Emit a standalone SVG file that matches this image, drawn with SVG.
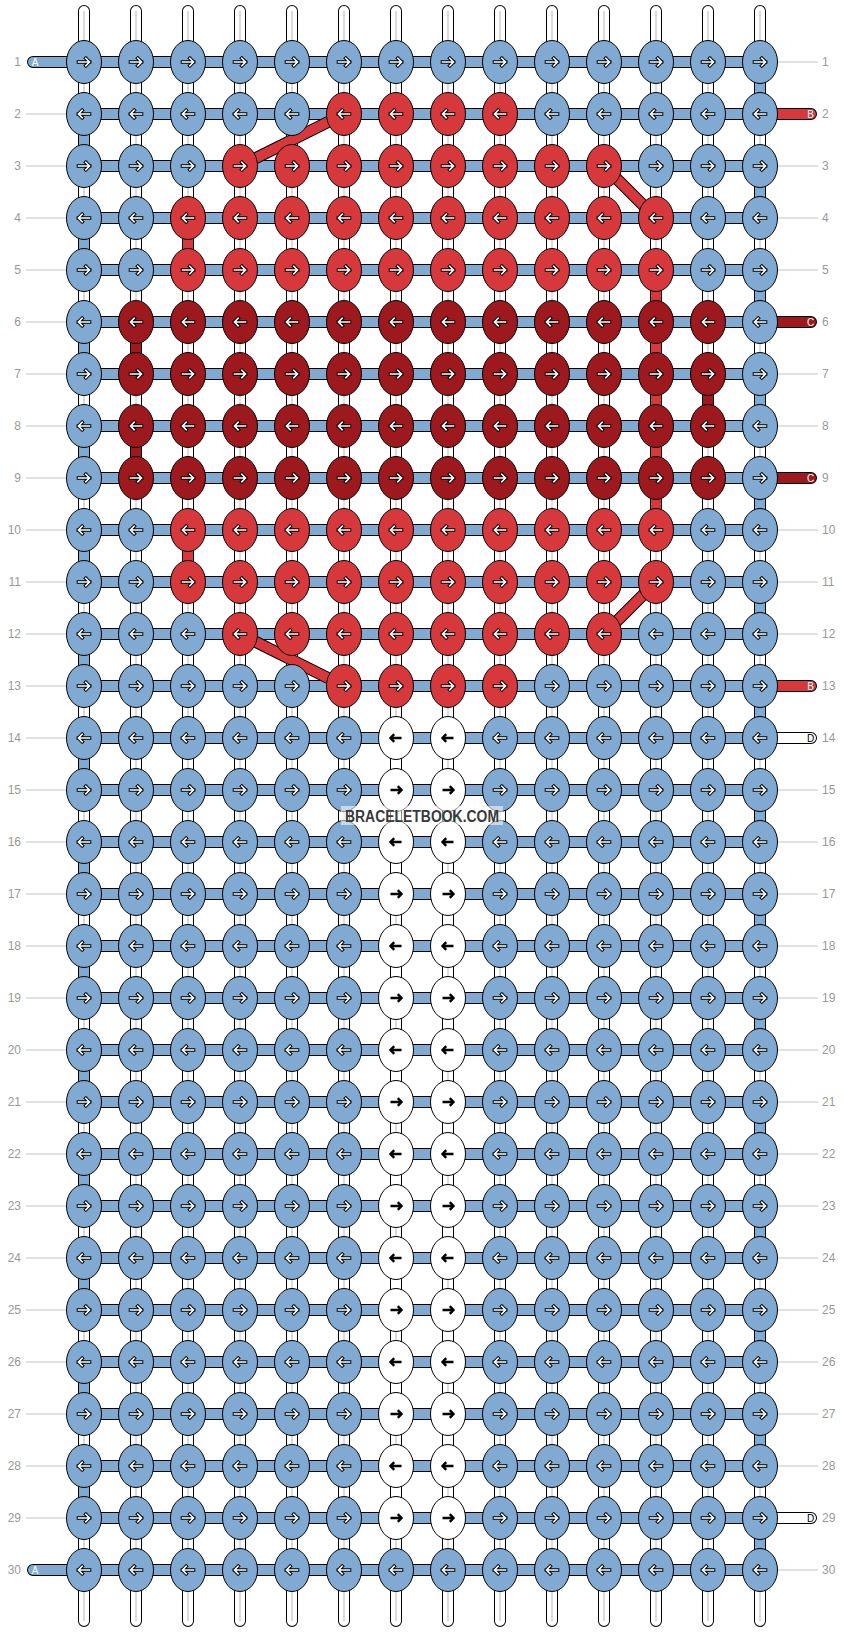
<svg xmlns="http://www.w3.org/2000/svg" xmlns:xlink="http://www.w3.org/1999/xlink" width="844" height="1632" viewBox="0 0 844 1632">
<style>
.kb{fill:#80aad2;stroke:#000;stroke-width:1}
.kr{fill:#d6383c;stroke:#000;stroke-width:1}
.kd{fill:#9e191d;stroke:#000;stroke-width:1}
.kw{fill:#fff;stroke:#000;stroke-width:1}
.ao{fill:none;stroke:#000;stroke-width:3.6;stroke-linecap:square}
.ai{fill:none;stroke:#fff;stroke-width:1.6;stroke-linecap:square}
.ak{fill:none;stroke:#000;stroke-width:2.4}
.ob{fill:none;stroke:#000;stroke-width:12;stroke-linecap:round}
.obb{fill:none;stroke:#000;stroke-width:12}
.cw{fill:none;stroke:#fff;stroke-width:10;stroke-linecap:round}
.cwb{fill:none;stroke:#fff;stroke-width:10}
.cg{fill:none;stroke:#c4c4c4;stroke-width:1.2}
.cb{fill:none;stroke:#80aad2;stroke-width:10;stroke-linecap:round}
.cbb{fill:none;stroke:#80aad2;stroke-width:10}
.cr{fill:none;stroke:#d6383c;stroke-width:10;stroke-linecap:round}
.crb{fill:none;stroke:#d6383c;stroke-width:10}
.cd{fill:none;stroke:#9e191d;stroke-width:10;stroke-linecap:round}
.cdb{fill:none;stroke:#9e191d;stroke-width:10}
.ll{fill:none;stroke:#c4c4c4;stroke-width:1}
.rn{font-family:"Liberation Sans",Arial,sans-serif;font-size:12px;fill:#999}
.tl{font-family:"Liberation Sans",Arial,sans-serif;font-size:10px;text-anchor:middle}
</style>
<defs>
<path id="ar" d="M-5.5,0H5.5M1.8,-3.8L5.5,0L1.8,3.8"/>
<path id="al" d="M5.5,0H-5.5M-1.8,-3.8L-5.5,0L-1.8,3.8"/>
<g id="bR"><ellipse class="kb" rx="17.5" ry="21.5"/><use href="#ar" class="ao"/><use href="#ar" class="ai"/></g>
<g id="bL"><ellipse class="kb" rx="17.5" ry="21.5"/><use href="#al" class="ao"/><use href="#al" class="ai"/></g>
<g id="rR"><ellipse class="kr" rx="17.5" ry="21.5"/><use href="#ar" class="ao"/><use href="#ar" class="ai"/></g>
<g id="rL"><ellipse class="kr" rx="17.5" ry="21.5"/><use href="#al" class="ao"/><use href="#al" class="ai"/></g>
<g id="dR"><ellipse class="kd" rx="17.5" ry="21.5"/><use href="#ar" class="ao"/><use href="#ar" class="ai"/></g>
<g id="dL"><ellipse class="kd" rx="17.5" ry="21.5"/><use href="#al" class="ao"/><use href="#al" class="ai"/></g>
<g id="wR"><ellipse class="kw" rx="17.5" ry="21.5"/><use href="#ar" class="ak"/></g>
<g id="wL"><ellipse class="kw" rx="17.5" ry="21.5"/><use href="#al" class="ak"/></g>
<path id="vs" d="M84 11V1621M136 11V1621M188 11V1621M240 11V1621M292 11V1621M344 11V1621M396 11V1621M448 11V1621M500 11V1621M552 11V1621M604 11V1621M656 11V1621M708 11V1621M760 11V1621"/>
<path id="hs" d="M33 62H760M84 114H760M84 166H760M84 218H760M84 270H760M84 322H760M84 374H760M84 426H760M84 478H760M84 530H760M84 582H760M84 634H760M84 686H760M84 738H760M84 790H760M84 842H760M84 894H760M84 946H760M84 998H760M84 1050H760M84 1102H760M84 1154H760M84 1206H760M84 1258H760M84 1310H760M84 1362H760M84 1414H760M84 1466H760M84 1518H760M33 1570H760"/>
<path id="dg" d="M344 114L240 166M604 166L656 218M656 582L604 634M240 634L344 686"/>
</defs>
<rect width="844" height="1632" fill="#fff"/>
<g id="connectors">
<use href="#vs" class="ob"/><use href="#vs" class="cw"/><use href="#vs" class="cg"/>
<path class="cbb" d="M760 62V114M760 166V218M760 270V322M760 374V426M760 478V530M760 582V634M760 686V738M760 790V842M760 894V946M760 998V1050M760 1102V1154M760 1206V1258M760 1310V1362M760 1414V1466M760 1518V1570M84 114V166M84 218V270M84 322V374M84 426V478M84 530V582M84 634V686M84 738V790M84 842V894M84 946V998M84 1050V1102M84 1154V1206M84 1258V1310M84 1362V1414M84 1466V1518"/>
<path class="crb" d="M188 218V270M188 530V582M656 270V530"/>
<path class="cdb" d="M136 322V374M136 426V478M708 374V426"/>
<path class="cwb" d="M396 738V790M396 842V894M396 946V998M396 1050V1102M396 1154V1206M396 1258V1310M396 1362V1414M396 1466V1518M448 790V842M448 894V946M448 998V1050M448 1102V1154M448 1206V1258M448 1310V1362M448 1414V1466"/>
<use href="#hs" class="ob"/><use href="#hs" class="cb"/>
<path class="ob" d="M760 114H811M760 686H811M760 322H811M760 478H811M760 738H811M760 1518H811"/>
<path class="cr" d="M760 114H811M760 686H811"/>
<path class="cd" d="M760 322H811M760 478H811"/>
<path class="cw" d="M760 738H811M760 1518H811"/>
<use href="#dg" class="obb"/><use href="#dg" class="crb"/>
</g>
<g id="tails-labels">
<text class="tl" x="35" y="65.6" fill="#fff">A</text>
<text class="tl" x="35" y="1573.6" fill="#fff">A</text>
<text class="tl" x="810.5" y="117.6" fill="#fff">B</text>
<text class="tl" x="810.5" y="689.6" fill="#fff">B</text>
<text class="tl" x="810.5" y="325.6" fill="#fff">C</text>
<text class="tl" x="810.5" y="481.6" fill="#fff">C</text>
<text class="tl" x="810.5" y="741.6" fill="#000">D</text>
<text class="tl" x="810.5" y="1521.6" fill="#000">D</text>
</g>
<g id="knots">
<g id="k1_1"><use href="#bR" x="84" y="62"/></g><g id="k1_2"><use href="#bR" x="136" y="62"/></g><g id="k1_3"><use href="#bR" x="188" y="62"/></g><g id="k1_4"><use href="#bR" x="240" y="62"/></g><g id="k1_5"><use href="#bR" x="292" y="62"/></g><g id="k1_6"><use href="#bR" x="344" y="62"/></g><g id="k1_7"><use href="#bR" x="396" y="62"/></g><g id="k1_8"><use href="#bR" x="448" y="62"/></g><g id="k1_9"><use href="#bR" x="500" y="62"/></g><g id="k1_10"><use href="#bR" x="552" y="62"/></g><g id="k1_11"><use href="#bR" x="604" y="62"/></g><g id="k1_12"><use href="#bR" x="656" y="62"/></g><g id="k1_13"><use href="#bR" x="708" y="62"/></g><g id="k1_14"><use href="#bR" x="760" y="62"/></g>
<g id="k2_1"><use href="#bL" x="84" y="114"/></g><g id="k2_2"><use href="#bL" x="136" y="114"/></g><g id="k2_3"><use href="#bL" x="188" y="114"/></g><g id="k2_4"><use href="#bL" x="240" y="114"/></g><g id="k2_5"><use href="#bL" x="292" y="114"/></g><g id="k2_6"><use href="#rL" x="344" y="114"/></g><g id="k2_7"><use href="#rL" x="396" y="114"/></g><g id="k2_8"><use href="#rL" x="448" y="114"/></g><g id="k2_9"><use href="#rL" x="500" y="114"/></g><g id="k2_10"><use href="#bL" x="552" y="114"/></g><g id="k2_11"><use href="#bL" x="604" y="114"/></g><g id="k2_12"><use href="#bL" x="656" y="114"/></g><g id="k2_13"><use href="#bL" x="708" y="114"/></g><g id="k2_14"><use href="#bL" x="760" y="114"/></g>
<g id="k3_1"><use href="#bR" x="84" y="166"/></g><g id="k3_2"><use href="#bR" x="136" y="166"/></g><g id="k3_3"><use href="#bR" x="188" y="166"/></g><g id="k3_4"><use href="#rR" x="240" y="166"/></g><g id="k3_5"><use href="#rR" x="292" y="166"/></g><g id="k3_6"><use href="#rR" x="344" y="166"/></g><g id="k3_7"><use href="#rR" x="396" y="166"/></g><g id="k3_8"><use href="#rR" x="448" y="166"/></g><g id="k3_9"><use href="#rR" x="500" y="166"/></g><g id="k3_10"><use href="#rR" x="552" y="166"/></g><g id="k3_11"><use href="#rR" x="604" y="166"/></g><g id="k3_12"><use href="#bR" x="656" y="166"/></g><g id="k3_13"><use href="#bR" x="708" y="166"/></g><g id="k3_14"><use href="#bR" x="760" y="166"/></g>
<g id="k4_1"><use href="#bL" x="84" y="218"/></g><g id="k4_2"><use href="#bL" x="136" y="218"/></g><g id="k4_3"><use href="#rL" x="188" y="218"/></g><g id="k4_4"><use href="#rL" x="240" y="218"/></g><g id="k4_5"><use href="#rL" x="292" y="218"/></g><g id="k4_6"><use href="#rL" x="344" y="218"/></g><g id="k4_7"><use href="#rL" x="396" y="218"/></g><g id="k4_8"><use href="#rL" x="448" y="218"/></g><g id="k4_9"><use href="#rL" x="500" y="218"/></g><g id="k4_10"><use href="#rL" x="552" y="218"/></g><g id="k4_11"><use href="#rL" x="604" y="218"/></g><g id="k4_12"><use href="#rL" x="656" y="218"/></g><g id="k4_13"><use href="#bL" x="708" y="218"/></g><g id="k4_14"><use href="#bL" x="760" y="218"/></g>
<g id="k5_1"><use href="#bR" x="84" y="270"/></g><g id="k5_2"><use href="#bR" x="136" y="270"/></g><g id="k5_3"><use href="#rR" x="188" y="270"/></g><g id="k5_4"><use href="#rR" x="240" y="270"/></g><g id="k5_5"><use href="#rR" x="292" y="270"/></g><g id="k5_6"><use href="#rR" x="344" y="270"/></g><g id="k5_7"><use href="#rR" x="396" y="270"/></g><g id="k5_8"><use href="#rR" x="448" y="270"/></g><g id="k5_9"><use href="#rR" x="500" y="270"/></g><g id="k5_10"><use href="#rR" x="552" y="270"/></g><g id="k5_11"><use href="#rR" x="604" y="270"/></g><g id="k5_12"><use href="#rR" x="656" y="270"/></g><g id="k5_13"><use href="#bR" x="708" y="270"/></g><g id="k5_14"><use href="#bR" x="760" y="270"/></g>
<g id="k6_1"><use href="#bL" x="84" y="322"/></g><g id="k6_2"><use href="#dL" x="136" y="322"/></g><g id="k6_3"><use href="#dL" x="188" y="322"/></g><g id="k6_4"><use href="#dL" x="240" y="322"/></g><g id="k6_5"><use href="#dL" x="292" y="322"/></g><g id="k6_6"><use href="#dL" x="344" y="322"/></g><g id="k6_7"><use href="#dL" x="396" y="322"/></g><g id="k6_8"><use href="#dL" x="448" y="322"/></g><g id="k6_9"><use href="#dL" x="500" y="322"/></g><g id="k6_10"><use href="#dL" x="552" y="322"/></g><g id="k6_11"><use href="#dL" x="604" y="322"/></g><g id="k6_12"><use href="#dL" x="656" y="322"/></g><g id="k6_13"><use href="#dL" x="708" y="322"/></g><g id="k6_14"><use href="#bL" x="760" y="322"/></g>
<g id="k7_1"><use href="#bR" x="84" y="374"/></g><g id="k7_2"><use href="#dR" x="136" y="374"/></g><g id="k7_3"><use href="#dR" x="188" y="374"/></g><g id="k7_4"><use href="#dR" x="240" y="374"/></g><g id="k7_5"><use href="#dR" x="292" y="374"/></g><g id="k7_6"><use href="#dR" x="344" y="374"/></g><g id="k7_7"><use href="#dR" x="396" y="374"/></g><g id="k7_8"><use href="#dR" x="448" y="374"/></g><g id="k7_9"><use href="#dR" x="500" y="374"/></g><g id="k7_10"><use href="#dR" x="552" y="374"/></g><g id="k7_11"><use href="#dR" x="604" y="374"/></g><g id="k7_12"><use href="#dR" x="656" y="374"/></g><g id="k7_13"><use href="#dR" x="708" y="374"/></g><g id="k7_14"><use href="#bR" x="760" y="374"/></g>
<g id="k8_1"><use href="#bL" x="84" y="426"/></g><g id="k8_2"><use href="#dL" x="136" y="426"/></g><g id="k8_3"><use href="#dL" x="188" y="426"/></g><g id="k8_4"><use href="#dL" x="240" y="426"/></g><g id="k8_5"><use href="#dL" x="292" y="426"/></g><g id="k8_6"><use href="#dL" x="344" y="426"/></g><g id="k8_7"><use href="#dL" x="396" y="426"/></g><g id="k8_8"><use href="#dL" x="448" y="426"/></g><g id="k8_9"><use href="#dL" x="500" y="426"/></g><g id="k8_10"><use href="#dL" x="552" y="426"/></g><g id="k8_11"><use href="#dL" x="604" y="426"/></g><g id="k8_12"><use href="#dL" x="656" y="426"/></g><g id="k8_13"><use href="#dL" x="708" y="426"/></g><g id="k8_14"><use href="#bL" x="760" y="426"/></g>
<g id="k9_1"><use href="#bR" x="84" y="478"/></g><g id="k9_2"><use href="#dR" x="136" y="478"/></g><g id="k9_3"><use href="#dR" x="188" y="478"/></g><g id="k9_4"><use href="#dR" x="240" y="478"/></g><g id="k9_5"><use href="#dR" x="292" y="478"/></g><g id="k9_6"><use href="#dR" x="344" y="478"/></g><g id="k9_7"><use href="#dR" x="396" y="478"/></g><g id="k9_8"><use href="#dR" x="448" y="478"/></g><g id="k9_9"><use href="#dR" x="500" y="478"/></g><g id="k9_10"><use href="#dR" x="552" y="478"/></g><g id="k9_11"><use href="#dR" x="604" y="478"/></g><g id="k9_12"><use href="#dR" x="656" y="478"/></g><g id="k9_13"><use href="#dR" x="708" y="478"/></g><g id="k9_14"><use href="#bR" x="760" y="478"/></g>
<g id="k10_1"><use href="#bL" x="84" y="530"/></g><g id="k10_2"><use href="#bL" x="136" y="530"/></g><g id="k10_3"><use href="#rL" x="188" y="530"/></g><g id="k10_4"><use href="#rL" x="240" y="530"/></g><g id="k10_5"><use href="#rL" x="292" y="530"/></g><g id="k10_6"><use href="#rL" x="344" y="530"/></g><g id="k10_7"><use href="#rL" x="396" y="530"/></g><g id="k10_8"><use href="#rL" x="448" y="530"/></g><g id="k10_9"><use href="#rL" x="500" y="530"/></g><g id="k10_10"><use href="#rL" x="552" y="530"/></g><g id="k10_11"><use href="#rL" x="604" y="530"/></g><g id="k10_12"><use href="#rL" x="656" y="530"/></g><g id="k10_13"><use href="#bL" x="708" y="530"/></g><g id="k10_14"><use href="#bL" x="760" y="530"/></g>
<g id="k11_1"><use href="#bR" x="84" y="582"/></g><g id="k11_2"><use href="#bR" x="136" y="582"/></g><g id="k11_3"><use href="#rR" x="188" y="582"/></g><g id="k11_4"><use href="#rR" x="240" y="582"/></g><g id="k11_5"><use href="#rR" x="292" y="582"/></g><g id="k11_6"><use href="#rR" x="344" y="582"/></g><g id="k11_7"><use href="#rR" x="396" y="582"/></g><g id="k11_8"><use href="#rR" x="448" y="582"/></g><g id="k11_9"><use href="#rR" x="500" y="582"/></g><g id="k11_10"><use href="#rR" x="552" y="582"/></g><g id="k11_11"><use href="#rR" x="604" y="582"/></g><g id="k11_12"><use href="#rR" x="656" y="582"/></g><g id="k11_13"><use href="#bR" x="708" y="582"/></g><g id="k11_14"><use href="#bR" x="760" y="582"/></g>
<g id="k12_1"><use href="#bL" x="84" y="634"/></g><g id="k12_2"><use href="#bL" x="136" y="634"/></g><g id="k12_3"><use href="#bL" x="188" y="634"/></g><g id="k12_4"><use href="#rL" x="240" y="634"/></g><g id="k12_5"><use href="#rL" x="292" y="634"/></g><g id="k12_6"><use href="#rL" x="344" y="634"/></g><g id="k12_7"><use href="#rL" x="396" y="634"/></g><g id="k12_8"><use href="#rL" x="448" y="634"/></g><g id="k12_9"><use href="#rL" x="500" y="634"/></g><g id="k12_10"><use href="#rL" x="552" y="634"/></g><g id="k12_11"><use href="#rL" x="604" y="634"/></g><g id="k12_12"><use href="#bL" x="656" y="634"/></g><g id="k12_13"><use href="#bL" x="708" y="634"/></g><g id="k12_14"><use href="#bL" x="760" y="634"/></g>
<g id="k13_1"><use href="#bR" x="84" y="686"/></g><g id="k13_2"><use href="#bR" x="136" y="686"/></g><g id="k13_3"><use href="#bR" x="188" y="686"/></g><g id="k13_4"><use href="#bR" x="240" y="686"/></g><g id="k13_5"><use href="#bR" x="292" y="686"/></g><g id="k13_6"><use href="#rR" x="344" y="686"/></g><g id="k13_7"><use href="#rR" x="396" y="686"/></g><g id="k13_8"><use href="#rR" x="448" y="686"/></g><g id="k13_9"><use href="#rR" x="500" y="686"/></g><g id="k13_10"><use href="#bR" x="552" y="686"/></g><g id="k13_11"><use href="#bR" x="604" y="686"/></g><g id="k13_12"><use href="#bR" x="656" y="686"/></g><g id="k13_13"><use href="#bR" x="708" y="686"/></g><g id="k13_14"><use href="#bR" x="760" y="686"/></g>
<g id="k14_1"><use href="#bL" x="84" y="738"/></g><g id="k14_2"><use href="#bL" x="136" y="738"/></g><g id="k14_3"><use href="#bL" x="188" y="738"/></g><g id="k14_4"><use href="#bL" x="240" y="738"/></g><g id="k14_5"><use href="#bL" x="292" y="738"/></g><g id="k14_6"><use href="#bL" x="344" y="738"/></g><g id="k14_7"><use href="#wL" x="396" y="738"/></g><g id="k14_8"><use href="#wL" x="448" y="738"/></g><g id="k14_9"><use href="#bL" x="500" y="738"/></g><g id="k14_10"><use href="#bL" x="552" y="738"/></g><g id="k14_11"><use href="#bL" x="604" y="738"/></g><g id="k14_12"><use href="#bL" x="656" y="738"/></g><g id="k14_13"><use href="#bL" x="708" y="738"/></g><g id="k14_14"><use href="#bL" x="760" y="738"/></g>
<g id="k15_1"><use href="#bR" x="84" y="790"/></g><g id="k15_2"><use href="#bR" x="136" y="790"/></g><g id="k15_3"><use href="#bR" x="188" y="790"/></g><g id="k15_4"><use href="#bR" x="240" y="790"/></g><g id="k15_5"><use href="#bR" x="292" y="790"/></g><g id="k15_6"><use href="#bR" x="344" y="790"/></g><g id="k15_7"><use href="#wR" x="396" y="790"/></g><g id="k15_8"><use href="#wR" x="448" y="790"/></g><g id="k15_9"><use href="#bR" x="500" y="790"/></g><g id="k15_10"><use href="#bR" x="552" y="790"/></g><g id="k15_11"><use href="#bR" x="604" y="790"/></g><g id="k15_12"><use href="#bR" x="656" y="790"/></g><g id="k15_13"><use href="#bR" x="708" y="790"/></g><g id="k15_14"><use href="#bR" x="760" y="790"/></g>
<g id="k16_1"><use href="#bL" x="84" y="842"/></g><g id="k16_2"><use href="#bL" x="136" y="842"/></g><g id="k16_3"><use href="#bL" x="188" y="842"/></g><g id="k16_4"><use href="#bL" x="240" y="842"/></g><g id="k16_5"><use href="#bL" x="292" y="842"/></g><g id="k16_6"><use href="#bL" x="344" y="842"/></g><g id="k16_7"><use href="#wL" x="396" y="842"/></g><g id="k16_8"><use href="#wL" x="448" y="842"/></g><g id="k16_9"><use href="#bL" x="500" y="842"/></g><g id="k16_10"><use href="#bL" x="552" y="842"/></g><g id="k16_11"><use href="#bL" x="604" y="842"/></g><g id="k16_12"><use href="#bL" x="656" y="842"/></g><g id="k16_13"><use href="#bL" x="708" y="842"/></g><g id="k16_14"><use href="#bL" x="760" y="842"/></g>
<g id="k17_1"><use href="#bR" x="84" y="894"/></g><g id="k17_2"><use href="#bR" x="136" y="894"/></g><g id="k17_3"><use href="#bR" x="188" y="894"/></g><g id="k17_4"><use href="#bR" x="240" y="894"/></g><g id="k17_5"><use href="#bR" x="292" y="894"/></g><g id="k17_6"><use href="#bR" x="344" y="894"/></g><g id="k17_7"><use href="#wR" x="396" y="894"/></g><g id="k17_8"><use href="#wR" x="448" y="894"/></g><g id="k17_9"><use href="#bR" x="500" y="894"/></g><g id="k17_10"><use href="#bR" x="552" y="894"/></g><g id="k17_11"><use href="#bR" x="604" y="894"/></g><g id="k17_12"><use href="#bR" x="656" y="894"/></g><g id="k17_13"><use href="#bR" x="708" y="894"/></g><g id="k17_14"><use href="#bR" x="760" y="894"/></g>
<g id="k18_1"><use href="#bL" x="84" y="946"/></g><g id="k18_2"><use href="#bL" x="136" y="946"/></g><g id="k18_3"><use href="#bL" x="188" y="946"/></g><g id="k18_4"><use href="#bL" x="240" y="946"/></g><g id="k18_5"><use href="#bL" x="292" y="946"/></g><g id="k18_6"><use href="#bL" x="344" y="946"/></g><g id="k18_7"><use href="#wL" x="396" y="946"/></g><g id="k18_8"><use href="#wL" x="448" y="946"/></g><g id="k18_9"><use href="#bL" x="500" y="946"/></g><g id="k18_10"><use href="#bL" x="552" y="946"/></g><g id="k18_11"><use href="#bL" x="604" y="946"/></g><g id="k18_12"><use href="#bL" x="656" y="946"/></g><g id="k18_13"><use href="#bL" x="708" y="946"/></g><g id="k18_14"><use href="#bL" x="760" y="946"/></g>
<g id="k19_1"><use href="#bR" x="84" y="998"/></g><g id="k19_2"><use href="#bR" x="136" y="998"/></g><g id="k19_3"><use href="#bR" x="188" y="998"/></g><g id="k19_4"><use href="#bR" x="240" y="998"/></g><g id="k19_5"><use href="#bR" x="292" y="998"/></g><g id="k19_6"><use href="#bR" x="344" y="998"/></g><g id="k19_7"><use href="#wR" x="396" y="998"/></g><g id="k19_8"><use href="#wR" x="448" y="998"/></g><g id="k19_9"><use href="#bR" x="500" y="998"/></g><g id="k19_10"><use href="#bR" x="552" y="998"/></g><g id="k19_11"><use href="#bR" x="604" y="998"/></g><g id="k19_12"><use href="#bR" x="656" y="998"/></g><g id="k19_13"><use href="#bR" x="708" y="998"/></g><g id="k19_14"><use href="#bR" x="760" y="998"/></g>
<g id="k20_1"><use href="#bL" x="84" y="1050"/></g><g id="k20_2"><use href="#bL" x="136" y="1050"/></g><g id="k20_3"><use href="#bL" x="188" y="1050"/></g><g id="k20_4"><use href="#bL" x="240" y="1050"/></g><g id="k20_5"><use href="#bL" x="292" y="1050"/></g><g id="k20_6"><use href="#bL" x="344" y="1050"/></g><g id="k20_7"><use href="#wL" x="396" y="1050"/></g><g id="k20_8"><use href="#wL" x="448" y="1050"/></g><g id="k20_9"><use href="#bL" x="500" y="1050"/></g><g id="k20_10"><use href="#bL" x="552" y="1050"/></g><g id="k20_11"><use href="#bL" x="604" y="1050"/></g><g id="k20_12"><use href="#bL" x="656" y="1050"/></g><g id="k20_13"><use href="#bL" x="708" y="1050"/></g><g id="k20_14"><use href="#bL" x="760" y="1050"/></g>
<g id="k21_1"><use href="#bR" x="84" y="1102"/></g><g id="k21_2"><use href="#bR" x="136" y="1102"/></g><g id="k21_3"><use href="#bR" x="188" y="1102"/></g><g id="k21_4"><use href="#bR" x="240" y="1102"/></g><g id="k21_5"><use href="#bR" x="292" y="1102"/></g><g id="k21_6"><use href="#bR" x="344" y="1102"/></g><g id="k21_7"><use href="#wR" x="396" y="1102"/></g><g id="k21_8"><use href="#wR" x="448" y="1102"/></g><g id="k21_9"><use href="#bR" x="500" y="1102"/></g><g id="k21_10"><use href="#bR" x="552" y="1102"/></g><g id="k21_11"><use href="#bR" x="604" y="1102"/></g><g id="k21_12"><use href="#bR" x="656" y="1102"/></g><g id="k21_13"><use href="#bR" x="708" y="1102"/></g><g id="k21_14"><use href="#bR" x="760" y="1102"/></g>
<g id="k22_1"><use href="#bL" x="84" y="1154"/></g><g id="k22_2"><use href="#bL" x="136" y="1154"/></g><g id="k22_3"><use href="#bL" x="188" y="1154"/></g><g id="k22_4"><use href="#bL" x="240" y="1154"/></g><g id="k22_5"><use href="#bL" x="292" y="1154"/></g><g id="k22_6"><use href="#bL" x="344" y="1154"/></g><g id="k22_7"><use href="#wL" x="396" y="1154"/></g><g id="k22_8"><use href="#wL" x="448" y="1154"/></g><g id="k22_9"><use href="#bL" x="500" y="1154"/></g><g id="k22_10"><use href="#bL" x="552" y="1154"/></g><g id="k22_11"><use href="#bL" x="604" y="1154"/></g><g id="k22_12"><use href="#bL" x="656" y="1154"/></g><g id="k22_13"><use href="#bL" x="708" y="1154"/></g><g id="k22_14"><use href="#bL" x="760" y="1154"/></g>
<g id="k23_1"><use href="#bR" x="84" y="1206"/></g><g id="k23_2"><use href="#bR" x="136" y="1206"/></g><g id="k23_3"><use href="#bR" x="188" y="1206"/></g><g id="k23_4"><use href="#bR" x="240" y="1206"/></g><g id="k23_5"><use href="#bR" x="292" y="1206"/></g><g id="k23_6"><use href="#bR" x="344" y="1206"/></g><g id="k23_7"><use href="#wR" x="396" y="1206"/></g><g id="k23_8"><use href="#wR" x="448" y="1206"/></g><g id="k23_9"><use href="#bR" x="500" y="1206"/></g><g id="k23_10"><use href="#bR" x="552" y="1206"/></g><g id="k23_11"><use href="#bR" x="604" y="1206"/></g><g id="k23_12"><use href="#bR" x="656" y="1206"/></g><g id="k23_13"><use href="#bR" x="708" y="1206"/></g><g id="k23_14"><use href="#bR" x="760" y="1206"/></g>
<g id="k24_1"><use href="#bL" x="84" y="1258"/></g><g id="k24_2"><use href="#bL" x="136" y="1258"/></g><g id="k24_3"><use href="#bL" x="188" y="1258"/></g><g id="k24_4"><use href="#bL" x="240" y="1258"/></g><g id="k24_5"><use href="#bL" x="292" y="1258"/></g><g id="k24_6"><use href="#bL" x="344" y="1258"/></g><g id="k24_7"><use href="#wL" x="396" y="1258"/></g><g id="k24_8"><use href="#wL" x="448" y="1258"/></g><g id="k24_9"><use href="#bL" x="500" y="1258"/></g><g id="k24_10"><use href="#bL" x="552" y="1258"/></g><g id="k24_11"><use href="#bL" x="604" y="1258"/></g><g id="k24_12"><use href="#bL" x="656" y="1258"/></g><g id="k24_13"><use href="#bL" x="708" y="1258"/></g><g id="k24_14"><use href="#bL" x="760" y="1258"/></g>
<g id="k25_1"><use href="#bR" x="84" y="1310"/></g><g id="k25_2"><use href="#bR" x="136" y="1310"/></g><g id="k25_3"><use href="#bR" x="188" y="1310"/></g><g id="k25_4"><use href="#bR" x="240" y="1310"/></g><g id="k25_5"><use href="#bR" x="292" y="1310"/></g><g id="k25_6"><use href="#bR" x="344" y="1310"/></g><g id="k25_7"><use href="#wR" x="396" y="1310"/></g><g id="k25_8"><use href="#wR" x="448" y="1310"/></g><g id="k25_9"><use href="#bR" x="500" y="1310"/></g><g id="k25_10"><use href="#bR" x="552" y="1310"/></g><g id="k25_11"><use href="#bR" x="604" y="1310"/></g><g id="k25_12"><use href="#bR" x="656" y="1310"/></g><g id="k25_13"><use href="#bR" x="708" y="1310"/></g><g id="k25_14"><use href="#bR" x="760" y="1310"/></g>
<g id="k26_1"><use href="#bL" x="84" y="1362"/></g><g id="k26_2"><use href="#bL" x="136" y="1362"/></g><g id="k26_3"><use href="#bL" x="188" y="1362"/></g><g id="k26_4"><use href="#bL" x="240" y="1362"/></g><g id="k26_5"><use href="#bL" x="292" y="1362"/></g><g id="k26_6"><use href="#bL" x="344" y="1362"/></g><g id="k26_7"><use href="#wL" x="396" y="1362"/></g><g id="k26_8"><use href="#wL" x="448" y="1362"/></g><g id="k26_9"><use href="#bL" x="500" y="1362"/></g><g id="k26_10"><use href="#bL" x="552" y="1362"/></g><g id="k26_11"><use href="#bL" x="604" y="1362"/></g><g id="k26_12"><use href="#bL" x="656" y="1362"/></g><g id="k26_13"><use href="#bL" x="708" y="1362"/></g><g id="k26_14"><use href="#bL" x="760" y="1362"/></g>
<g id="k27_1"><use href="#bR" x="84" y="1414"/></g><g id="k27_2"><use href="#bR" x="136" y="1414"/></g><g id="k27_3"><use href="#bR" x="188" y="1414"/></g><g id="k27_4"><use href="#bR" x="240" y="1414"/></g><g id="k27_5"><use href="#bR" x="292" y="1414"/></g><g id="k27_6"><use href="#bR" x="344" y="1414"/></g><g id="k27_7"><use href="#wR" x="396" y="1414"/></g><g id="k27_8"><use href="#wR" x="448" y="1414"/></g><g id="k27_9"><use href="#bR" x="500" y="1414"/></g><g id="k27_10"><use href="#bR" x="552" y="1414"/></g><g id="k27_11"><use href="#bR" x="604" y="1414"/></g><g id="k27_12"><use href="#bR" x="656" y="1414"/></g><g id="k27_13"><use href="#bR" x="708" y="1414"/></g><g id="k27_14"><use href="#bR" x="760" y="1414"/></g>
<g id="k28_1"><use href="#bL" x="84" y="1466"/></g><g id="k28_2"><use href="#bL" x="136" y="1466"/></g><g id="k28_3"><use href="#bL" x="188" y="1466"/></g><g id="k28_4"><use href="#bL" x="240" y="1466"/></g><g id="k28_5"><use href="#bL" x="292" y="1466"/></g><g id="k28_6"><use href="#bL" x="344" y="1466"/></g><g id="k28_7"><use href="#wL" x="396" y="1466"/></g><g id="k28_8"><use href="#wL" x="448" y="1466"/></g><g id="k28_9"><use href="#bL" x="500" y="1466"/></g><g id="k28_10"><use href="#bL" x="552" y="1466"/></g><g id="k28_11"><use href="#bL" x="604" y="1466"/></g><g id="k28_12"><use href="#bL" x="656" y="1466"/></g><g id="k28_13"><use href="#bL" x="708" y="1466"/></g><g id="k28_14"><use href="#bL" x="760" y="1466"/></g>
<g id="k29_1"><use href="#bR" x="84" y="1518"/></g><g id="k29_2"><use href="#bR" x="136" y="1518"/></g><g id="k29_3"><use href="#bR" x="188" y="1518"/></g><g id="k29_4"><use href="#bR" x="240" y="1518"/></g><g id="k29_5"><use href="#bR" x="292" y="1518"/></g><g id="k29_6"><use href="#bR" x="344" y="1518"/></g><g id="k29_7"><use href="#wR" x="396" y="1518"/></g><g id="k29_8"><use href="#wR" x="448" y="1518"/></g><g id="k29_9"><use href="#bR" x="500" y="1518"/></g><g id="k29_10"><use href="#bR" x="552" y="1518"/></g><g id="k29_11"><use href="#bR" x="604" y="1518"/></g><g id="k29_12"><use href="#bR" x="656" y="1518"/></g><g id="k29_13"><use href="#bR" x="708" y="1518"/></g><g id="k29_14"><use href="#bR" x="760" y="1518"/></g>
<g id="k30_1"><use href="#bL" x="84" y="1570"/></g><g id="k30_2"><use href="#bL" x="136" y="1570"/></g><g id="k30_3"><use href="#bL" x="188" y="1570"/></g><g id="k30_4"><use href="#bL" x="240" y="1570"/></g><g id="k30_5"><use href="#bL" x="292" y="1570"/></g><g id="k30_6"><use href="#bL" x="344" y="1570"/></g><g id="k30_7"><use href="#bL" x="396" y="1570"/></g><g id="k30_8"><use href="#bL" x="448" y="1570"/></g><g id="k30_9"><use href="#bL" x="500" y="1570"/></g><g id="k30_10"><use href="#bL" x="552" y="1570"/></g><g id="k30_11"><use href="#bL" x="604" y="1570"/></g><g id="k30_12"><use href="#bL" x="656" y="1570"/></g><g id="k30_13"><use href="#bL" x="708" y="1570"/></g><g id="k30_14"><use href="#bL" x="760" y="1570"/></g>
</g>
<g id="row-lines">
<path class="ll" d="M26 114H66M26 166H66M26 218H66M26 270H66M26 322H66M26 374H66M26 426H66M26 478H66M26 530H66M26 582H66M26 634H66M26 686H66M26 738H66M26 790H66M26 842H66M26 894H66M26 946H66M26 998H66M26 1050H66M26 1102H66M26 1154H66M26 1206H66M26 1258H66M26 1310H66M26 1362H66M26 1414H66M26 1466H66M26 1518H66"/>
<path class="ll" d="M778 62H818M778 166H818M778 218H818M778 270H818M778 374H818M778 426H818M778 530H818M778 582H818M778 634H818M778 790H818M778 842H818M778 894H818M778 946H818M778 998H818M778 1050H818M778 1102H818M778 1154H818M778 1206H818M778 1258H818M778 1310H818M778 1362H818M778 1414H818M778 1466H818M778 1570H818"/>
</g>
<g id="row-numbers-left" class="rn" text-anchor="end">
<text x="21" y="66.2">1</text><text x="21" y="118.2">2</text><text x="21" y="170.2">3</text><text x="21" y="222.2">4</text><text x="21" y="274.2">5</text><text x="21" y="326.2">6</text><text x="21" y="378.2">7</text><text x="21" y="430.2">8</text><text x="21" y="482.2">9</text><text x="21" y="534.2">10</text><text x="21" y="586.2">11</text><text x="21" y="638.2">12</text><text x="21" y="690.2">13</text><text x="21" y="742.2">14</text><text x="21" y="794.2">15</text><text x="21" y="846.2">16</text><text x="21" y="898.2">17</text><text x="21" y="950.2">18</text><text x="21" y="1002.2">19</text><text x="21" y="1054.2">20</text><text x="21" y="1106.2">21</text><text x="21" y="1158.2">22</text><text x="21" y="1210.2">23</text><text x="21" y="1262.2">24</text><text x="21" y="1314.2">25</text><text x="21" y="1366.2">26</text><text x="21" y="1418.2">27</text><text x="21" y="1470.2">28</text><text x="21" y="1522.2">29</text><text x="21" y="1574.2">30</text>
</g>
<g id="row-numbers-right" class="rn">
<text x="822" y="66.2">1</text><text x="822" y="118.2">2</text><text x="822" y="170.2">3</text><text x="822" y="222.2">4</text><text x="822" y="274.2">5</text><text x="822" y="326.2">6</text><text x="822" y="378.2">7</text><text x="822" y="430.2">8</text><text x="822" y="482.2">9</text><text x="822" y="534.2">10</text><text x="822" y="586.2">11</text><text x="822" y="638.2">12</text><text x="822" y="690.2">13</text><text x="822" y="742.2">14</text><text x="822" y="794.2">15</text><text x="822" y="846.2">16</text><text x="822" y="898.2">17</text><text x="822" y="950.2">18</text><text x="822" y="1002.2">19</text><text x="822" y="1054.2">20</text><text x="822" y="1106.2">21</text><text x="822" y="1158.2">22</text><text x="822" y="1210.2">23</text><text x="822" y="1262.2">24</text><text x="822" y="1314.2">25</text><text x="822" y="1366.2">26</text><text x="822" y="1418.2">27</text><text x="822" y="1470.2">28</text><text x="822" y="1522.2">29</text><text x="822" y="1574.2">30</text>
</g>
<g id="watermark">
<rect x="341" y="806" width="162" height="19" fill="#fff" fill-opacity="0.55"/>
<text x="422" y="822" font-family="'Liberation Sans',Arial,sans-serif" font-size="16" font-weight="bold" fill="#3a3a3a" text-anchor="middle" textLength="154" lengthAdjust="spacingAndGlyphs">BRACELETBOOK.COM</text>
</g>
</svg>
